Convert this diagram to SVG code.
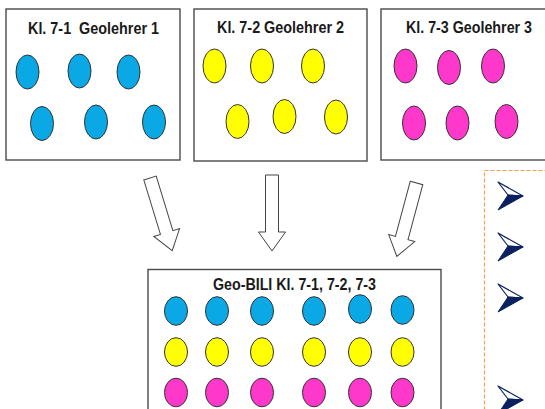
<svg xmlns="http://www.w3.org/2000/svg" width="545" height="409" viewBox="0 0 545 409">
<style>
.box{fill:#fff;stroke:#4a4a4a;stroke-width:1.4}
.t{font-family:"Liberation Sans Narrow","Liberation Sans",Arial,sans-serif;font-weight:bold;font-size:16.5px;fill:#1a1a1a}
.b{fill:#0aa9e6;stroke:#333;stroke-width:1}
.y{fill:#ffff00;stroke:#333;stroke-width:1}
.m{fill:#ff38cc;stroke:#333;stroke-width:1}
.arr{fill:#fff;stroke:#444;stroke-width:1}
.note{fill:none;stroke:#f5a04a;stroke-width:1.2;stroke-dasharray:4 2}
</style>
<defs>
<path id="blk" d="M-6.5,0 L6.5,0 L6.5,57 L13.5,57 L0,76 L-13.5,57 L-6.5,57 Z"/>
<g id="bul">
<polygon points="-10,-13 15,1 0,0" fill="#fff" stroke="#0b2060" stroke-width="1.2" stroke-linejoin="round"/>
<polygon points="0,0 15,1 -10,15" fill="#0b2060" stroke="#0b2060" stroke-width="1" stroke-linejoin="round"/>
</g>
</defs>
<rect width="545" height="409" fill="#fff"/>

<g id="klasse71">
<rect class="box" x="6" y="9" width="174" height="151"/>
<text class="t" x="28" y="33.5" textLength="131" lengthAdjust="spacingAndGlyphs" xml:space="preserve">Kl. 7-1  Geolehrer 1</text>
<ellipse class="b" cx="27.5" cy="72" rx="11.5" ry="17"/>
<ellipse class="b" cx="79.5" cy="71" rx="11.5" ry="17"/>
<ellipse class="b" cx="128.5" cy="72" rx="11.5" ry="17"/>
<ellipse class="b" cx="42" cy="123.5" rx="11.5" ry="17"/>
<ellipse class="b" cx="96" cy="122" rx="11.5" ry="17"/>
<ellipse class="b" cx="154" cy="122" rx="11.5" ry="17"/>
</g>

<g id="klasse72">
<rect class="box" x="194" y="9" width="173" height="152"/>
<text class="t" x="217" y="32.5" textLength="127" lengthAdjust="spacingAndGlyphs">Kl. 7-2 Geolehrer 2</text>
<ellipse class="y" cx="214.5" cy="66" rx="11.5" ry="17"/>
<ellipse class="y" cx="262" cy="66" rx="11.5" ry="17"/>
<ellipse class="y" cx="313" cy="66" rx="11.5" ry="17"/>
<ellipse class="y" cx="237.5" cy="121.5" rx="11.5" ry="17"/>
<ellipse class="y" cx="284.5" cy="116.5" rx="11.5" ry="17"/>
<ellipse class="y" cx="336" cy="117" rx="11.5" ry="17"/>
</g>

<g id="klasse73">
<rect class="box" x="381" y="9" width="175" height="151"/>
<text class="t" x="406" y="32.5" textLength="126" lengthAdjust="spacingAndGlyphs">Kl. 7-3 Geolehrer 3</text>
<ellipse class="m" cx="405.5" cy="66" rx="11.5" ry="17"/>
<ellipse class="m" cx="449" cy="67.5" rx="11.5" ry="17"/>
<ellipse class="m" cx="493" cy="66" rx="11.5" ry="17"/>
<ellipse class="m" cx="414" cy="123" rx="11.5" ry="17"/>
<ellipse class="m" cx="457.5" cy="123" rx="11.5" ry="17"/>
<ellipse class="m" cx="506.5" cy="121.5" rx="11.5" ry="17"/>
</g>

<g id="connectors">
<use href="#blk" class="arr" transform="translate(150,178) rotate(-17)"/>
<use href="#blk" class="arr" transform="translate(272,175)"/>
<use href="#blk" class="arr" transform="translate(416.5,183) rotate(15)"/>
</g>

<g id="geobili">
<rect class="box" x="148" y="269.5" width="293" height="160"/>
<text class="t" x="213" y="290" textLength="163" lengthAdjust="spacingAndGlyphs">Geo-BILI Kl. 7-1, 7-2, 7-3</text>
<ellipse class="b" cx="176" cy="311" rx="11.5" ry="14.3"/>
<ellipse class="b" cx="217" cy="311" rx="11.5" ry="14.3"/>
<ellipse class="b" cx="262" cy="311" rx="11.5" ry="14.3"/>
<ellipse class="b" cx="314" cy="311" rx="11.5" ry="14.3"/>
<ellipse class="b" cx="360" cy="309" rx="11.5" ry="14.3"/>
<ellipse class="b" cx="402.5" cy="310" rx="11.5" ry="14.3"/>
<ellipse class="y" cx="176" cy="352" rx="11.5" ry="14.3"/>
<ellipse class="y" cx="217" cy="352" rx="11.5" ry="14.3"/>
<ellipse class="y" cx="262" cy="352" rx="11.5" ry="14.3"/>
<ellipse class="y" cx="314" cy="352" rx="11.5" ry="14.3"/>
<ellipse class="y" cx="360" cy="352" rx="11.5" ry="14.3"/>
<ellipse class="y" cx="402.5" cy="352" rx="11.5" ry="14.3"/>
<ellipse class="m" cx="176" cy="392.5" rx="11.5" ry="14.3"/>
<ellipse class="m" cx="217" cy="392.5" rx="11.5" ry="14.3"/>
<ellipse class="m" cx="262" cy="392.5" rx="11.5" ry="14.3"/>
<ellipse class="m" cx="314" cy="392.5" rx="11.5" ry="14.3"/>
<ellipse class="m" cx="360" cy="392.5" rx="11.5" ry="14.3"/>
<ellipse class="m" cx="402.5" cy="392.5" rx="11.5" ry="14.3"/>
</g>

<g id="notes">
<rect class="note" x="484.5" y="170.5" width="100" height="260"/>
<use href="#bul" transform="translate(508,195)"/>
<use href="#bul" transform="translate(508,246)"/>
<use href="#bul" transform="translate(508,297)"/>
<use href="#bul" transform="translate(508,399)"/>
</g>
</svg>
